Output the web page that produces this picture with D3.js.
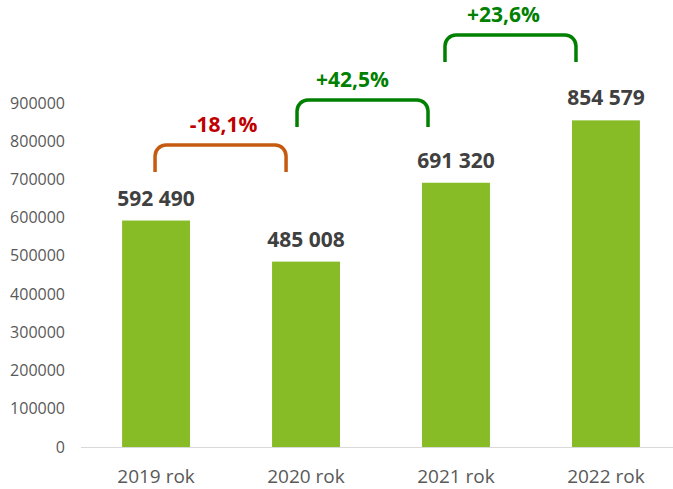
<!DOCTYPE html>
<html>
<head>
  <meta charset="utf-8">
  <script src="https://cdn.jsdelivr.net/npm/d3@7"></script>
  <style>
    body { margin: 0; background: #fff; }
    text { font-family: "Open Sans", "Noto Sans", sans-serif; }
  </style>
</head>
<body>
  <div id="chart"></div>
  <script>
    var years = ['2019 rok', '2020 rok', '2021 rok', '2022 rok'];
    var values = [592490, 485008, 691320, 854579];
    var yTicks = [0, 100000, 200000, 300000, 400000, 500000, 600000, 700000, 800000, 900000];

    // change brackets: from bar, label, level (in axis units)
    var changeFrom = [0, 1, 2];
    var changeLabels = ['-18,1%', '+42,5%', '+23,6%'];
    var changeLevels = [790000, 908000, 1078000];
    var changeColors = ['#c55a11', '#008000', '#008000'];
    var changeTextColors = ['#c00000', '#008000', '#008000'];

    var width = 673, height = 489;
    var svg = d3.select('#chart').append('svg')
      .attr('width', width).attr('height', height);

    var x = d3.scaleBand().domain(years).range([81, 681]).paddingInner(0.547).paddingOuter(0.274);
    var y = d3.scaleLinear().domain([0, 900000]).range([447, 103]);

    // y axis labels
    svg.append('g').selectAll('text').data(yTicks).enter().append('text')
      .attr('x', 65).attr('y', function(d){ return y(d) + 5.5; })
      .attr('text-anchor', 'end')
      .style('font-size', '16px').style('fill', '#595959')
      .text(function(d){ return d; });

    // bars
    svg.append('g').selectAll('rect').data(values).enter().append('rect')
      .attr('x', function(d, i){ return x(years[i]); })
      .attr('y', function(d){ return y(d); })
      .attr('width', x.bandwidth())
      .attr('height', function(d){ return y(0) - y(d); })
      .style('fill', '#87bc27');

    // baseline
    svg.append('line')
      .attr('x1', 81).attr('x2', 681).attr('y1', y(0) + 0.5).attr('y2', y(0) + 0.5)
      .style('stroke', '#d9d9d9').style('stroke-width', 1);

    // x labels
    svg.append('g').selectAll('text').data(years).enter().append('text')
      .attr('x', function(d){ return x(d) + x.bandwidth() / 2; })
      .attr('y', 483)
      .attr('text-anchor', 'middle')
      .style('font-size', '19px').style('fill', '#595959')
      .text(function(d){ return d; });

    // value labels
    var fmt = function(v){ return d3.format(',')(v).replace(/,/g, ' '); };
    svg.append('g').selectAll('text').data(values).enter().append('text')
      .attr('x', function(d, i){ return x(years[i]) + x.bandwidth() / 2; })
      .attr('y', function(d){ return y(d) - 15; })
      .attr('text-anchor', 'middle')
      .style('font-size', '21px').style('font-weight', 'bold').style('fill', '#404040')
      .text(fmt);

    // brackets
    var legOffset = [-1, -9, -11];
    var labelShift = [3, -10, -7];
    var bw = 131, legH = 27, r = 11;
    changeFrom.forEach(function(fi, k){
      var x0 = x(years[fi]) + x.bandwidth() / 2 + legOffset[k];
      var x1 = x0 + bw;
      var top = y(changeLevels[k]);
      var bot = top + legH;
      var p = d3.path();
      p.moveTo(x0, bot);
      p.lineTo(x0, top + r);
      p.arcTo(x0, top, x0 + r, top, r);
      p.lineTo(x1 - r, top);
      p.arcTo(x1, top, x1, top + r, r);
      p.lineTo(x1, bot);
      svg.append('path').attr('d', p.toString())
        .style('fill', 'none').style('stroke', changeColors[k]).style('stroke-width', 3.5);
      svg.append('text')
        .attr('x', (x0 + x1) / 2 + labelShift[k]).attr('y', top - 13)
        .attr('text-anchor', 'middle')
        .style('font-size', '21px').style('font-weight', 'bold').style('fill', changeTextColors[k])
        .text(changeLabels[k]);
    });
  </script>
</body>
</html>
